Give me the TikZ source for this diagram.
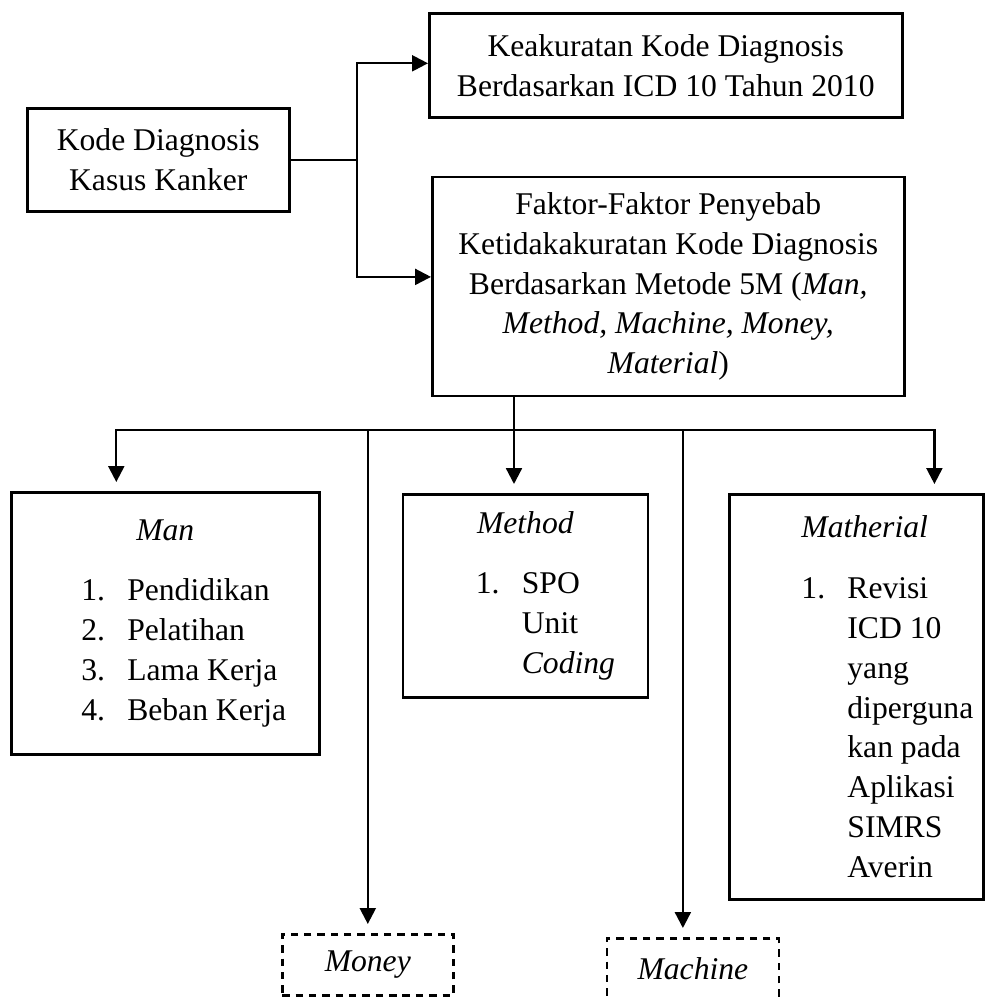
\documentclass[tikz,border=0pt]{standalone}
\usepackage{fontspec}
\setmainfont{Liberation Serif}
\usetikzlibrary{arrows.meta,positioning}

\setlength{\parindent}{0pt}
\newcommand{\numitem}[2]{\makebox[0.92cm][l]{#1}#2\par}
\newcommand{\moreitem}[1]{\hspace*{0.92cm}#1\par}
\newcommand{\listindent}[1]{\leftskip=#1\relax\rightskip=0pt plus 1fil\relax\parfillskip=0pt plus 1fil\relax\spaceskip=0pt\relax\xspaceskip=0pt\relax}

\begin{document}
\begin{tikzpicture}[
    x=0.02cm, y=-0.02cm,
    every node/.style={font=\fontsize{18}{22.7}\selectfont, inner sep=0pt},
    box/.style={rectangle, draw, line width=1.5pt, align=center, anchor=north west},
    listbox/.style={rectangle, draw, line width=1.5pt, align=left, anchor=north west},
    dashbox/.style={rectangle, draw, line width=1.5pt, dash pattern=on 4.2pt off 3.4pt, anchor=north west},
    line/.style={line width=1.3pt},
    arrow/.style={line width=1.3pt, -{Triangle[length=9pt,width=9pt]}},
    down/.style={arrow, shorten >=0.18cm}
]
\useasboundingbox (0,0) rectangle (990,997);

% Top part
\node[box, minimum width=5.24cm, minimum height=2.06cm] (kode) at (26,107) {Kode Diagnosis\\Kasus Kanker};
\node[box, minimum width=9.46cm, minimum height=2.08cm] (keak) at (428,12) {Keakuratan Kode Diagnosis\\Berdasarkan ICD 10 Tahun 2010};
\node[box, minimum width=9.44cm, minimum height=4.38cm, below right=1.14cm and 0.06cm of keak.south west] (faktor) {Faktor-Faktor Penyebab\\Ketidakakuratan Kode Diagnosis\\Berdasarkan Metode 5M (\textit{Man,}\\\textit{Method, Machine, Money,}\\\textit{Material})};

% The 5M boxes
\node[listbox, minimum width=6.16cm, minimum height=5.24cm, text width=6.16cm] (man) at (10,491) {%
    {\centering\textit{Man}\par}\vspace{0.42cm}\listindent{1.4cm}
    \numitem{1.}{Pendidikan}
    \numitem{2.}{Pelatihan}
    \numitem{3.}{Lama Kerja}
    \numitem{4.}{Beban Kerja}};
\node[listbox, minimum width=4.9cm, minimum height=4.06cm, text width=4.9cm, below right=0.04cm and 1.62cm of man.north east] (method) {%
    {\centering\textit{Method}\par}\vspace{0.42cm}\listindent{1.46cm}
    \numitem{1.}{SPO}
    \moreitem{Unit}
    \moreitem{\textit{Coding}}};
\node[listbox, minimum width=5.08cm, minimum height=8.1cm, text width=5.08cm, below right=0cm and 1.58cm of method.north east] (matherial) {%
    {\listindent{1.44cm}\textit{Matherial}\par}\vspace{0.42cm}\listindent{1.44cm}
    \numitem{1.}{Revisi}
    \moreitem{ICD 10}
    \moreitem{yang}
    \moreitem{diperguna}
    \moreitem{kan pada}
    \moreitem{Aplikasi}
    \moreitem{SIMRS}
    \moreitem{Averin}};
\node[dashbox, minimum width=3.42cm, minimum height=1.22cm] (money) at (281,933) {\textit{Money}};
\node[dashbox, minimum width=3.44cm, minimum height=1.2cm, below right=0.08cm and 3.02cm of money.north east] (machine) {\textit{Machine}};

% Connections
\coordinate (fork) at (357,158.5);
\draw[line] (kode.east) -- (kode.east -| fork);
\draw[arrow] (kode.east -| fork) |- ([yshift=0.04cm]keak.west);
\draw[arrow] (kode.east -| fork) |- ([yshift=0.19cm]faktor.west);

\coordinate (bus) at (514,430);
\draw[line] (faktor.south -| bus) -- (bus);
\draw[down] (bus) -| ([xshift=-0.98cm]man.north);
\draw[down] (bus) -- (bus |- method.north);
\draw[down] (bus) -| ([xshift=1.56cm]matherial.north);
\draw[down] (bus) -| (money.north);
\draw[down] (bus) -| ([xshift=-0.2cm]machine.north);

\end{tikzpicture}
\end{document}
